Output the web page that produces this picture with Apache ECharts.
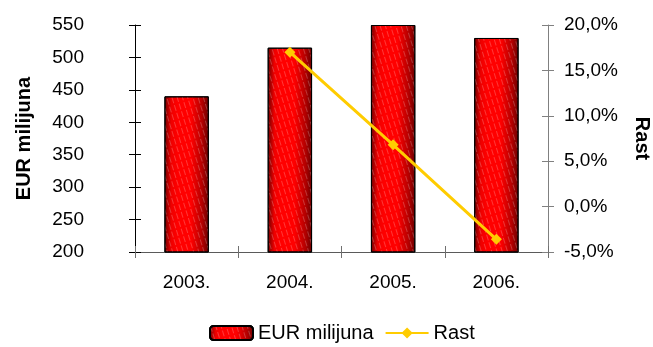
<!DOCTYPE html>
<html><head><meta charset="utf-8">
<script src="https://cdn.jsdelivr.net/npm/echarts@6/dist/echarts.min.js"></script>
<style>html,body{margin:0;padding:0;background:#fff}#c{width:653px;height:347px}</style>
</head><body><div id="c"></div>
<script>
const categories = ['2003.', '2004.', '2005.', '2006.'];
const eurValues = [440, 515, 550, 530];
const rastValues = [null, 17.0, 6.8, -3.6];
const leftTicks = [200, 550, 50];
const rightTicks = [-5, 20, 5];

const FONT = 'Liberation Sans, Arial, sans-serif';
const FS = 19;
const chart = echarts.init(document.getElementById('c'));
const barGrad = new echarts.graphic.LinearGradient(0, 0, 1, 0, [
  {offset: 0, color: '#6e0000'},
  {offset: 0.15, color: '#ee0000'},
  {offset: 0.3, color: '#ff0000'},
  {offset: 0.6, color: '#ff0000'},
  {offset: 0.85, color: '#b30000'},
  {offset: 1, color: '#6a0000'}
]);
const fmtPct = v => v.toFixed(1).replace('.', ',') + '%';
chart.setOption({
  animation: false,
  textStyle: {fontFamily: FONT},
  grid: {left: 135, right: 105, top: 25, bottom: 95, containLabel: false, outerBoundsMode: 'none'},
  legend: {
    bottom: -1, left: 204, itemWidth: 43, itemHeight: 14, itemGap: 11,
    textStyle: {fontFamily: FONT, fontSize: 20, color: '#000'},
    data: ['EUR milijuna', 'Rast']
  },
  xAxis: [{
    type: 'category', data: categories, position: 'bottom',
    axisLine: {show: true, onZero: false, lineStyle: {color: '#5a5a5a', width: 1.2}},
    axisTick: {show: true, length: 6, lineStyle: {color: '#707070'}},
    axisLabel: {fontSize: FS, color: '#000', margin: 21, fontFamily: FONT}
  }, {
    type: 'category', data: categories, position: 'bottom',
    axisLine: {show: false, onZero: false}, axisLabel: {show: false},
    axisTick: {show: true, inside: true, length: 6, lineStyle: {color: '#707070'}}
  }],
  yAxis: [{
    type: 'value', min: leftTicks[0], max: leftTicks[1], interval: leftTicks[2],
    name: 'EUR milijuna', nameLocation: 'middle', nameGap: 101,
    nameTextStyle: {fontSize: 20, fontWeight: 'bold', color: '#000', fontFamily: FONT},
    axisLine: {show: true, lineStyle: {color: '#000'}},
    axisTick: {show: true, length: 6, lineStyle: {color: '#000'}},
    splitLine: {show: false},
    axisLabel: {fontSize: FS, color: '#000', margin: 51, fontFamily: FONT}
  }, {
    type: 'value', min: rightTicks[0], max: rightTicks[1], interval: rightTicks[2],
    position: 'right',
    name: 'Rast', nameLocation: 'middle', nameGap: 84, nameRotate: -90,
    nameTextStyle: {fontSize: 20, fontWeight: 'bold', color: '#000', fontFamily: FONT},
    axisLine: {show: true, lineStyle: {color: '#808080'}},
    axisTick: {show: true, length: 6, lineStyle: {color: '#808080'}},
    splitLine: {show: false},
    axisLabel: {fontSize: FS, color: '#000', margin: 16, fontFamily: FONT, formatter: fmtPct}
  }, {
    type: 'value', min: leftTicks[0], max: leftTicks[1], interval: leftTicks[2], position: 'left',
    axisLine: {show: false}, axisLabel: {show: false}, splitLine: {show: false},
    axisTick: {show: true, inside: true, length: 6, lineStyle: {color: '#000'}}
  }, {
    type: 'value', min: rightTicks[0], max: rightTicks[1], interval: rightTicks[2], position: 'right',
    axisLine: {show: false}, axisLabel: {show: false}, splitLine: {show: false},
    axisTick: {show: true, inside: true, length: 6, lineStyle: {color: '#808080'}}
  }],
  series: [{
    name: 'EUR milijuna', type: 'bar', data: eurValues, barWidth: '43%',
    itemStyle: {
      color: barGrad, borderColor: '#000', borderWidth: 1,
      decal: {symbol: 'rect', symbolSize: 1, dashArrayX: [1, 4], dashArrayY: [6, 2], rotation: -0.3, color: 'rgba(255,255,255,0.22)'}
    }
  }, {
    name: 'Rast', type: 'line', yAxisIndex: 1, data: rastValues,
    symbol: 'diamond', symbolSize: 11, connectNulls: false,
    lineStyle: {color: '#FFCC00', width: 3},
    itemStyle: {color: '#FFCC00'}
  }]
});
</script></body></html>
